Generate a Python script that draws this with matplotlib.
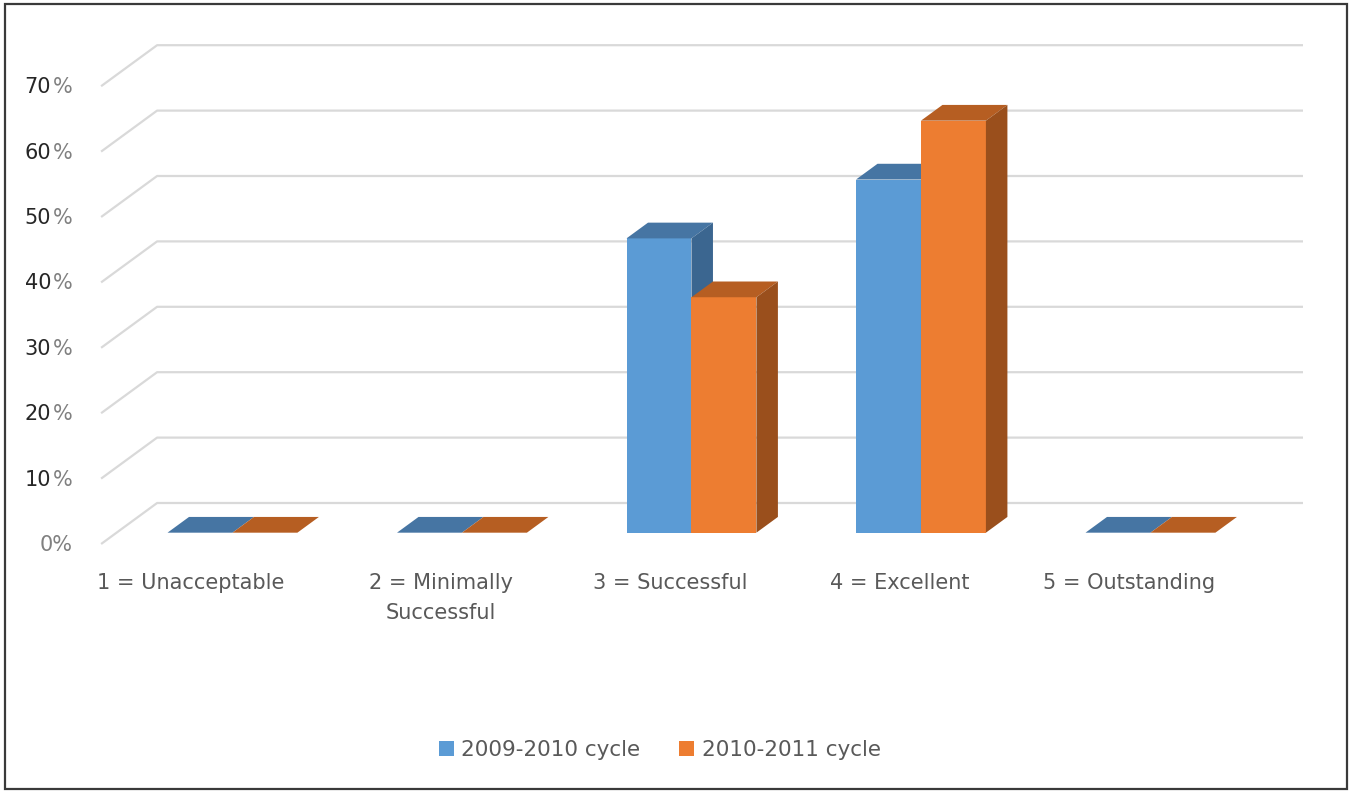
import numpy as np
import matplotlib
matplotlib.use("Agg")
import matplotlib.pyplot as plt
from matplotlib.patches import Polygon, Rectangle, Patch

# ---- data ----
categories = ["1 = Unacceptable", "2 = Minimally\nSuccessful", "3 = Successful",
              "4 = Excellent", "5 = Outstanding"]
series_names = ["2009-2010 cycle", "2010-2011 cycle"]
cycle_0910 = [0, 0, 45, 54, 0]
cycle_1011 = [0, 0, 36, 63, 0]
y_ticks = [0, 10, 20, 30, 40, 50, 60, 70]

# colours: front, top, side
blue = ["#5B9BD5", "#4675A3", "#3B6690"]
orange = ["#ED7D31", "#B65E22", "#9A4F1C"]
grid_col = "#D9D9D9"
text_col = "#595959"

W, H = 1352, 793
fig = plt.figure(figsize=(W / 100, H / 100), dpi=100)
ax = fig.add_axes([0, 0, 1, 1])

# x in category units, y in percent (front edge of floor)
X0, SP = 217.0, 229.5
Y0, K = 544.0, 6.54
ax.set_xlim(-X0 / SP, (W - X0) / SP)
ax.set_ylim((Y0 - H) / K, Y0 / K)
ax.axis("off")

# oblique depth of the floor
DX = 56 / SP
DY = 41 / K


def proj(x, v, d):
    return (x + d * DX, v + d * DY)


# gridlines: diagonal on the side wall + horizontal on the back wall
x_lo, x_hi = -0.505, 4.488
for t in y_ticks:
    xs = [proj(x_lo, t, 0)[0], proj(x_lo, t, 1)[0], proj(x_hi, t, 1)[0]]
    ys = [proj(x_lo, t, 0)[1], proj(x_lo, t, 1)[1], proj(x_hi, t, 1)[1]]
    ax.plot(xs, ys, color=grid_col, lw=1.6, zorder=1, solid_capstyle="butt")

    fx, fy = proj(x_lo, t, 0)
    if t == 0:
        ax.annotate("0%", (fx, fy), xytext=(-28, -1), textcoords="offset pixels",
                    ha="right", va="center", fontsize=15, color="#808080")
    else:
        ax.annotate(str(t), (fx, fy), xytext=(-50, -1), textcoords="offset pixels",
                    ha="right", va="center", fontsize=15, color="#262626")
        ax.annotate("%", (fx, fy), xytext=(-28, -1), textcoords="offset pixels",
                    ha="right", va="center", fontsize=15, color="#808080")

# 3D-looking bars
BW = 0.283
D0, D1 = 0.276, 0.66
for j, (vals, cols) in enumerate([(cycle_0910, blue), (cycle_1011, orange)]):
    for i, v in enumerate(vals):
        xl = i + (j - 1) * BW
        xr = xl + BW
        front = [proj(xl, 0, D0), proj(xr, 0, D0), proj(xr, v, D0), proj(xl, v, D0)]
        top = [proj(xl, v, D0), proj(xr, v, D0), proj(xr, v, D1), proj(xl, v, D1)]
        side = [proj(xr, 0, D0), proj(xr, 0, D1), proj(xr, v, D1), proj(xr, v, D0)]
        z = 2 + i * 2 + j
        ax.add_patch(Polygon(front, closed=True, fc=cols[0], ec="none", zorder=z))
        ax.add_patch(Polygon(top, closed=True, fc=cols[1], ec="none", zorder=z))
        ax.add_patch(Polygon(side, closed=True, fc=cols[2], ec="none", zorder=z))

# category labels under the floor
label_nudge = [-20, 0, 0, 0, 0]
for i, lab in enumerate(categories):
    ax.annotate(lab, proj(i, 0, 0), xytext=(-6 + label_nudge[i], -29),
                textcoords="offset pixels", ha="center", va="top",
                multialignment="center", fontsize=15, color=text_col, linespacing=1.62)

handles = [Patch(fc=blue[0], ec="none"), Patch(fc=orange[0], ec="none")]
fig.legend(handles, series_names, loc="center", bbox_to_anchor=(0.488, 0.054),
           ncol=2, frameon=False, fontsize=15.5, labelcolor=text_col,
           handlelength=0.7, handleheight=0.7, handletextpad=0.35, columnspacing=1.8)

# outer frame
fig.patches.append(Rectangle((5 / W, 4 / H), 1342 / W, 785 / H, transform=fig.transFigure,
                             fill=False, ec="#3a3a3a", lw=1.6))

fig.savefig("out.png", dpi=100)
